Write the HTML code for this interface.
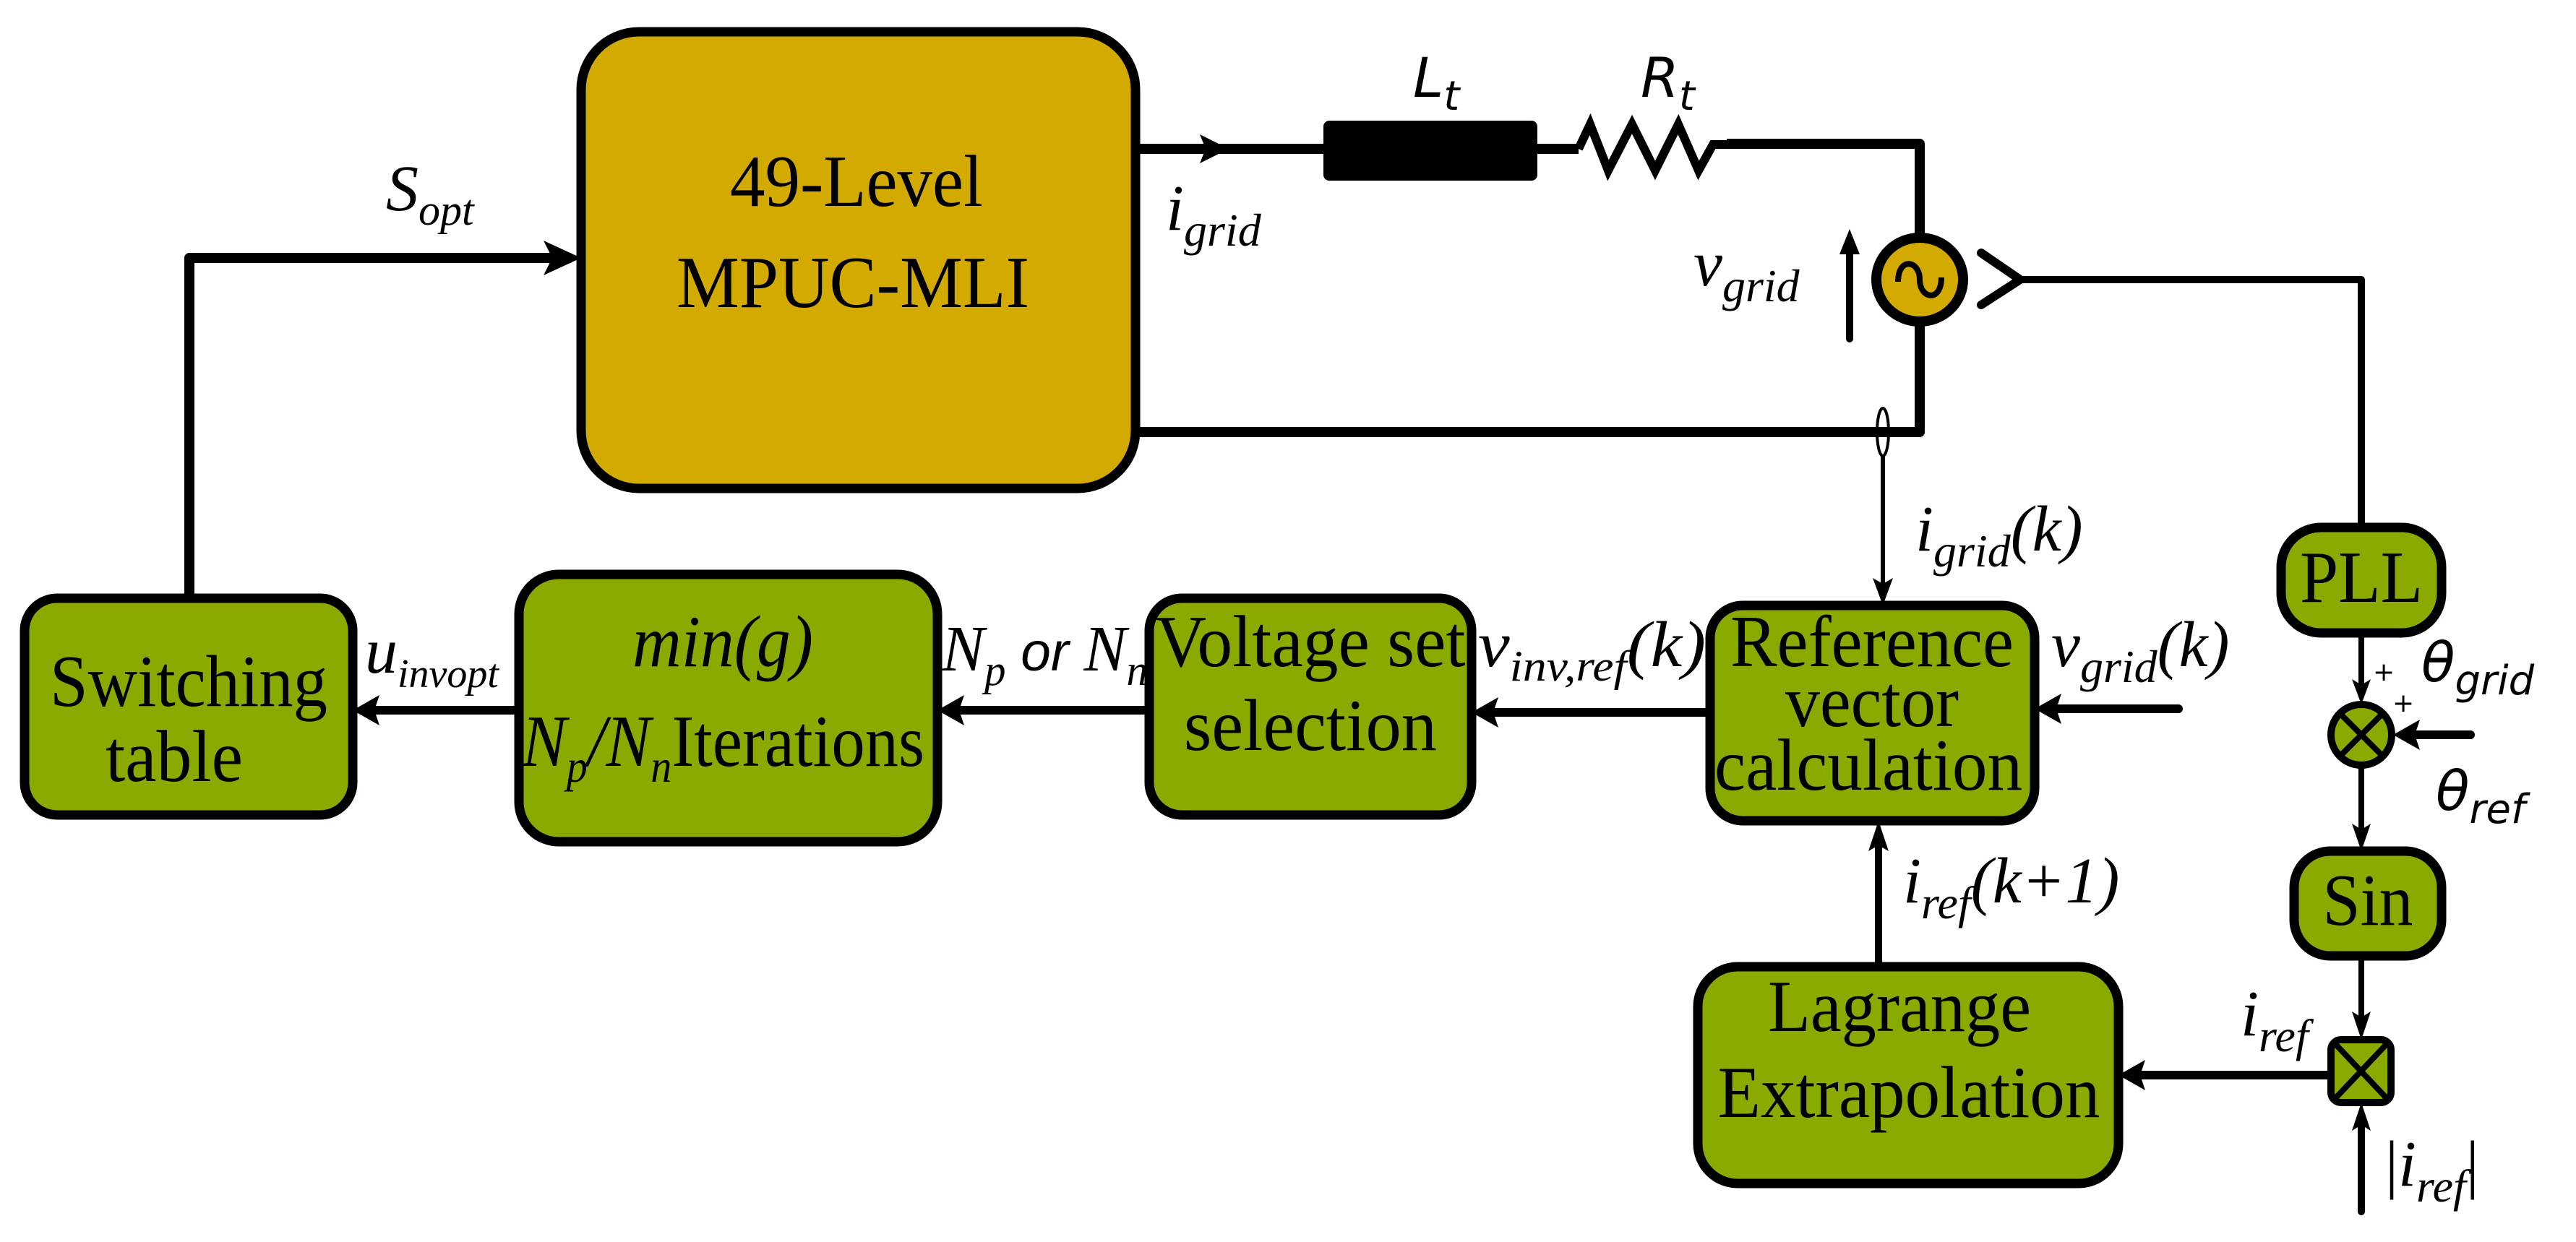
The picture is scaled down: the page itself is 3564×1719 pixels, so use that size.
<!DOCTYPE html>
<html><head><meta charset="utf-8"><style>html,body{margin:0;padding:0;background:#fff}svg{display:block}</style></head>
<body>
<svg width="3564" height="1719" viewBox="0 0 3564 1719" xmlns="http://www.w3.org/2000/svg" font-family="Liberation Serif, serif">
<g fill="none" stroke="#000" stroke-width="13" stroke-linejoin="round">
<rect x="804" y="44" width="767" height="632" rx="80" fill="#D3AA00"/>
<rect x="34" y="828" width="454" height="300" rx="45" fill="#8AAA00"/>
<rect x="718" y="795" width="579" height="370" rx="55" fill="#8AAA00"/>
<rect x="1590" y="828" width="446" height="300" rx="45" fill="#8AAA00"/>
<rect x="2366" y="838" width="449" height="298" rx="45" fill="#8AAA00"/>
<rect x="2349" y="1338" width="582" height="300" rx="55" fill="#8AAA00"/>
<rect x="3156" y="730" width="222" height="146" rx="55" fill="#8AAA00"/>
<rect x="3174" y="1178" width="204" height="145" rx="50" fill="#8AAA00"/>
<rect x="3225" y="1439" width="83" height="87" rx="14" fill="#8AAA00" stroke-width="10"/>
<path d="M3232 1446 L3301 1519 M3301 1446 L3232 1519" stroke-width="8"/>
<circle cx="3267" cy="1017" r="42" fill="#8AAA00" stroke-width="10"/>
<path d="M3238 988 L3296 1046 M3296 988 L3238 1046" stroke-width="8"/>

<path d="M262 828 V357 H790" stroke-width="14"/>
<path d="M1571 206 H1831 M2127 206 H2184 M2389 199 H2656 V325" stroke-width="14"/>
<path d="M2184 206 L2200 172 L2225 236 L2258 172 L2290 236 L2322 172 L2350 236 L2370 200 L2389 200" stroke-width="12" stroke-linejoin="miter"/>
<path d="M2656 450 V598 H1571" stroke-width="14"/>
<path d="M2741 350 L2795 387 L2741 422" stroke-width="12" stroke-linecap="round" stroke-linejoin="miter"/>
<path d="M2798 387 H3267 V730" stroke-width="10"/>
<path d="M2559 469 V335" stroke-width="10" stroke-linecap="round"/>
<path d="M2605 631 V820" stroke-width="6"/>
<path d="M718 983 H505" stroke-width="12"/>
<path d="M1590 983 H1315" stroke-width="12"/>
<path d="M2366 986 H2055" stroke-width="12"/>
<path d="M3014 981 H2835" stroke-width="12" stroke-linecap="round"/>
<path d="M2599 1338 V1155" stroke-width="10"/>
<path d="M3267 876 V960" stroke-width="8"/>
<path d="M3267 1059 V1160" stroke-width="8"/>
<path d="M3267 1323 V1422" stroke-width="8"/>
<path d="M3418 1017 H3330" stroke-width="12" stroke-linecap="round"/>
<path d="M3225 1488 H2950" stroke-width="12"/>
<path d="M3267 1677 V1545" stroke-width="10" stroke-linecap="round"/>
</g>
<rect x="1831" y="167" width="296" height="83" rx="8" fill="#000"/>
<ellipse cx="2656" cy="387" rx="60" ry="58" fill="#D3AA00" stroke="#000" stroke-width="14"/>
<path d="M2626 390 C2626 355 2656 360 2656 387 C2656 414 2686 419 2686 384" fill="none" stroke="#000" stroke-width="8"/>
<ellipse cx="2605" cy="598" rx="8" ry="33" fill="none" stroke="#000" stroke-width="4"/>
<g fill="#000">
<path d="M804 357 L752 333 L764 357 L752 381 Z"/>
<path d="M1700 206 L1660 186 L1668 206 L1660 226 Z"/>
<path d="M2559 317 L2545 352 L2573 352 Z"/>
<path d="M488 983 L525 962 L518 983 L525 1004 Z"/>
<path d="M1297 983 L1334 962 L1327 983 L1334 1004 Z"/>
<path d="M2036 986 L2073 965 L2066 986 L2073 1007 Z"/>
<path d="M2815 981 L2852 960 L2845 981 L2852 1002 Z"/>
<path d="M2605 838 L2591 800 L2605 808 L2619 800 Z"/>
<path d="M2599 1136 L2585 1178 L2599 1170 L2613 1178 Z"/>
<path d="M3267 975 L3254 940 L3267 948 L3280 940 Z"/>
<path d="M3267 1178 L3254 1140 L3267 1148 L3280 1140 Z"/>
<path d="M3267 1439 L3254 1400 L3267 1408 L3280 1400 Z"/>
<path d="M3311 1017 L3348 996 L3341 1017 L3348 1038 Z"/>
<path d="M2931 1488 L2968 1467 L2961 1488 L2968 1509 Z"/>
<path d="M3267 1526 L3254 1565 L3267 1557 L3280 1565 Z"/>
</g>
<g font-size="102" text-anchor="middle" fill="#000" lengthAdjust="spacingAndGlyphs">
<text x="1185" y="285" textLength="350" lengthAdjust="spacingAndGlyphs">49-Level</text>
<text x="1180" y="425" textLength="488" lengthAdjust="spacingAndGlyphs">MPUC-MLI</text>
<text x="261" y="977" textLength="384" lengthAdjust="spacingAndGlyphs">Switching</text>
<text x="241" y="1081" textLength="190" lengthAdjust="spacingAndGlyphs">table</text>
<text x="1000" y="922" font-style="italic" textLength="250" lengthAdjust="spacingAndGlyphs">min(g)</text>
<text x="1813" y="922" textLength="429" lengthAdjust="spacingAndGlyphs">Voltage set</text>
<text x="1813" y="1038" textLength="350" lengthAdjust="spacingAndGlyphs">selection</text>
<text x="2590" y="922" textLength="392" lengthAdjust="spacingAndGlyphs">Reference</text>
<text x="2590" y="1005" textLength="240" lengthAdjust="spacingAndGlyphs">vector</text>
<text x="2585" y="1093" textLength="426" lengthAdjust="spacingAndGlyphs">calculation</text>
<text x="2628" y="1427" textLength="364" lengthAdjust="spacingAndGlyphs">Lagrange</text>
<text x="2641" y="1546" textLength="529" lengthAdjust="spacingAndGlyphs">Extrapolation</text>
<text x="3267" y="833" textLength="170" lengthAdjust="spacingAndGlyphs">PLL</text>
<text x="3276" y="1280" textLength="125" lengthAdjust="spacingAndGlyphs">Sin</text>
</g>
<text x="722" y="1060" font-size="102" fill="#000" textLength="557" lengthAdjust="spacingAndGlyphs"><tspan font-style="italic">N</tspan><tspan font-style="italic" font-size="64" dy="22">p</tspan><tspan font-style="italic" dy="-22">/N</tspan><tspan font-style="italic" font-size="64" dy="22">n</tspan><tspan dy="-22">Iterations</tspan></text>
<g font-style="italic" fill="#000" font-size="90">
<text x="534" y="291">S<tspan font-size="60" dy="20">opt</tspan></text>
<text x="1613" y="318">i<tspan font-size="64" dy="22">grid</tspan></text>
<text x="2343" y="395">v<tspan font-size="64" dy="22">grid</tspan></text>
<text x="2650" y="762">i<tspan font-size="64" dy="22">grid</tspan><tspan dy="-22">(k)</tspan></text>
<text x="505" y="931">u<tspan font-size="56" dy="20">invopt</tspan></text>
<text x="1303" y="928" textLength="285" lengthAdjust="spacingAndGlyphs">N<tspan font-size="60" dy="20">p</tspan><tspan font-family="Liberation Sans, sans-serif" font-size="76" dy="-20"> or </tspan>N<tspan font-size="60" dy="20">n</tspan></text>
<text x="2045" y="922" textLength="315" lengthAdjust="spacingAndGlyphs">v<tspan font-size="60" dy="20">inv,ref</tspan><tspan dy="-20">(k)</tspan></text>
<text x="2838" y="922">v<tspan font-size="64" dy="22">grid</tspan><tspan dy="-22">(k)</tspan></text>
<text x="2633" y="1249">i<tspan font-size="64" dy="22">ref</tspan><tspan dy="-22">(k+1)</tspan></text>
<text x="3100" y="1433">i<tspan font-size="64" dy="22">ref</tspan></text>
<text x="3300" y="1641" font-style="normal">|<tspan font-style="italic">i</tspan><tspan font-style="italic" font-size="64" dy="22">ref</tspan><tspan dy="-22">|</tspan></text>
</g>
<g font-family="DejaVu Sans, sans-serif" font-style="italic" fill="#000">
<text x="1955" y="134" font-size="76">L<tspan font-size="56" dy="18">t</tspan></text>
<text x="2270" y="134" font-size="76">R<tspan font-size="56" dy="18">t</tspan></text>
<text x="3350" y="943" font-size="76">θ<tspan font-size="56" dy="18">grid</tspan></text>
<text x="3370" y="1121" font-size="76">θ<tspan font-size="56" dy="18">ref</tspan></text>
</g>
<g font-family="DejaVu Sans, sans-serif" font-size="36" fill="#000">
<text x="3283" y="942">+</text>
<text x="3310" y="985">+</text>
</g>
</svg>
</body></html>
